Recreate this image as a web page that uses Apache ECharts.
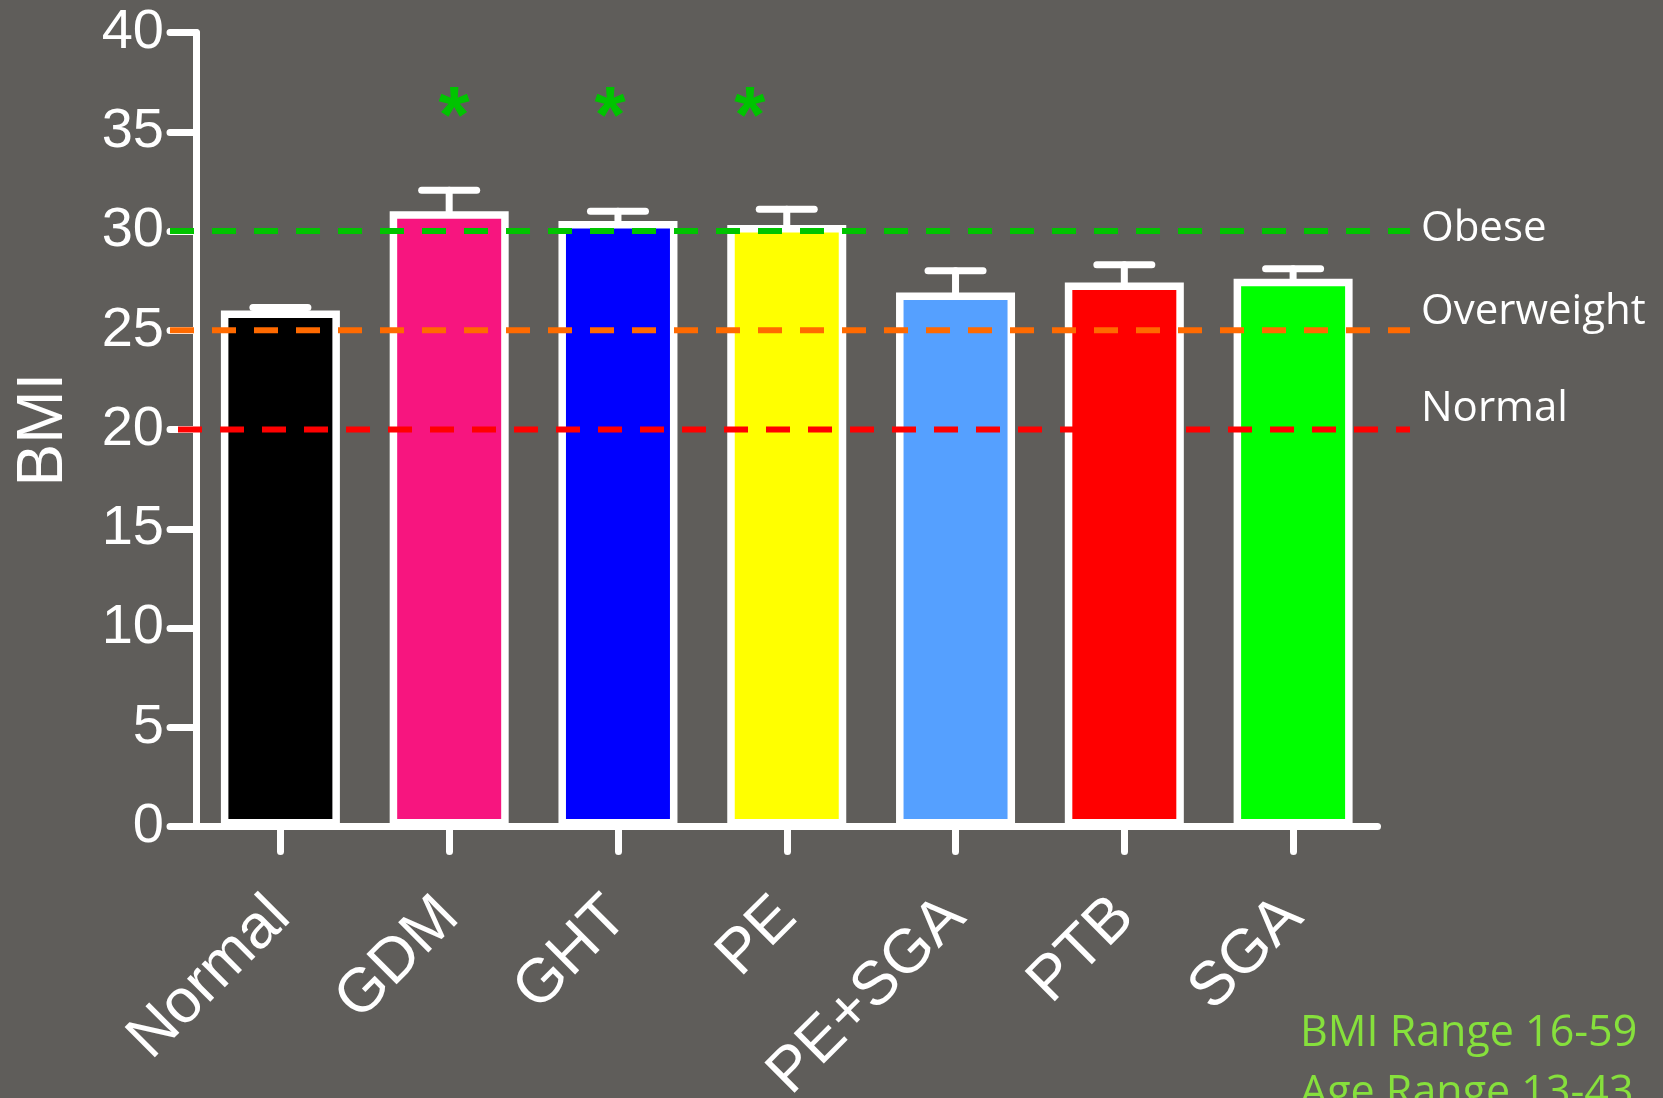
<!DOCTYPE html>
<html>
<head>
<meta charset="utf-8">
<script src="https://cdn.jsdelivr.net/npm/echarts@6/dist/echarts.min.js"></script>
<style>
  html, body { margin: 0; padding: 0; background: #5f5d5a; }
  #chart { width: 1663px; height: 1098px; }
</style>
</head>
<body>
<div id="chart"></div>
<script>
// Group means and standard errors of BMI per pregnancy outcome
const categories = ['Normal', 'GDM', 'GHT', 'PE', 'PE+SGA', 'PTB', 'SGA'];
const bmiMean = [26.0, 31.0, 30.5, 30.3, 26.9, 27.4, 27.6];
const bmiSem = [0.15, 1.05, 0.5, 0.8, 1.1, 0.9, 0.5];
const barColors = ['#000000', '#f7157f', '#0000ff', '#ffff00', '#55a0ff', '#ff0000', '#00ff00'];
const significant = [false, true, true, true, false, false, false];

// BMI classification cut-offs
const cutoffValues = [30, 25, 20];
const cutoffLabels = ['Obese', 'Overweight', 'Normal'];
const cutoffColors = ['#00c400', '#ff6a00', '#ff0000'];

// Value axis
const yMin = 0, yMax = 40, yStep = 5;

// Footnote lines
const notes = ['BMI Range 16-59', 'Age Range 13-43'];

// ---- styling ----
const WHITE = '#ffffff';
const AXIS_W = 7;
const starLevel = 35.6;
const starShift = [0, 5, -8, -37, 0, 0, 0];
const cutoffLabelLift = [-2, -18, -20];
const cutoffDashOffset = [0, 0, 34];

const chart = echarts.init(document.getElementById('chart'), null, { renderer: 'canvas' });

const gridTop = 32.5, gridBottom = 271.5;

const series = [];

series.push({
  type: 'bar',
  xAxisIndex: 0, yAxisIndex: 0,
  barWidth: 119,
  data: bmiMean.map((v, i) => ({
    value: v,
    itemStyle: { color: barColors[i], borderColor: WHITE, borderWidth: 7.5 }
  })),
  z: 2
});

// error bars (mean + SEM)
series.push({
  type: 'custom',
  xAxisIndex: 0, yAxisIndex: 0,
  data: bmiMean.map((v, i) => [i, v, bmiSem[i]]),
  renderItem: function (params, api) {
    const i = api.value(0), m = api.value(1), e = api.value(2);
    const base = api.coord([i, m]);
    const top = api.coord([i, m + e]);
    const half = 27.5;
    const st = { stroke: WHITE, lineWidth: 7, lineCap: 'round', fill: null };
    return {
      type: 'group',
      children: [
        { type: 'line', shape: { x1: base[0], y1: base[1] + 2, x2: top[0], y2: top[1] }, style: st },
        { type: 'line', shape: { x1: top[0] - half, y1: top[1], x2: top[0] + half, y2: top[1] }, style: st }
      ]
    };
  },
  z: 3
});

// significance markers
series.push({
  type: 'custom',
  xAxisIndex: 0, yAxisIndex: 0,
  data: significant.map((s, i) => s ? [i, starLevel] : null).filter(d => d),
  renderItem: function (params, api) {
    const i = api.value(0);
    const p = api.coord([i, api.value(1)]);
    return {
      type: 'text',
      x: p[0] + starShift[i], y: p[1],
      style: {
        text: '*', fill: '#00c400',
        font: 'bold 80px "Liberation Sans", Arial, sans-serif',
        align: 'center', verticalAlign: 'middle'
      }
    };
  },
  z: 4
});

// cut-off reference lines on an overlay grid spanning past the plot
cutoffValues.forEach((v, k) => {
  series.push({
    type: 'line',
    xAxisIndex: 1, yAxisIndex: 1,
    data: [[0, v], [1, v]],
    symbol: 'none',
    silent: true,
    lineStyle: { color: cutoffColors[k], width: 6, type: [24, 18], dashOffset: cutoffDashOffset[k], cap: 'butt' },
    endLabel: {
      show: true,
      formatter: cutoffLabels[k],
      color: WHITE,
      fontFamily: '"Open Sans", sans-serif',
      fontSize: 42,
      distance: 11,
      offset: [0, cutoffLabelLift[k]]
    },
    z: 5
  });
});

const option = {
  backgroundColor: '#5f5d5a',
  animation: false,
  grid: [
    { left: 196, right: 285.5, top: gridTop, bottom: gridBottom, containLabel: false, outerBoundsMode: 'none' },
    { left: 170, right: 253, top: gridTop, bottom: gridBottom, containLabel: false, outerBoundsMode: 'none' }
  ],
  xAxis: [
    {
      type: 'category',
      gridIndex: 0,
      data: categories,
      axisLine: { show: true, lineStyle: { color: WHITE, width: AXIS_W, cap: 'round' } },
      axisTick: { show: true, alignWithLabel: true, inside: false, length: 25, lineStyle: { color: WHITE, width: AXIS_W, cap: 'round' } },
      axisLabel: {
        show: true, interval: 0, rotate: 45, margin: 81,
        color: WHITE, fontSize: 62, fontFamily: '"Liberation Sans", Arial, sans-serif'
      },
      splitLine: { show: false }
    },
    { type: 'value', gridIndex: 1, min: 0, max: 1, show: false }
  ],
  yAxis: [
    {
      type: 'value',
      gridIndex: 0,
      min: yMin, max: yMax, interval: yStep,
      name: 'BMI',
      nameLocation: 'middle',
      nameRotate: 90,
      nameGap: 120,
      nameTextStyle: { color: WHITE, fontSize: 64, fontFamily: '"Liberation Sans", Arial, sans-serif' },
      axisLine: { show: true, lineStyle: { color: WHITE, width: AXIS_W, cap: 'round' } },
      axisTick: { show: true, inside: false, length: 26, lineStyle: { color: WHITE, width: AXIS_W, cap: 'round' } },
      axisLabel: { color: WHITE, fontSize: 56, margin: 32, fontFamily: '"Liberation Sans", Arial, sans-serif' },
      splitLine: { show: false }
    },
    { type: 'value', gridIndex: 1, min: yMin, max: yMax, show: false }
  ],
  graphic: notes.map((t, k) => ({
    type: 'text',
    left: 1300,
    top: 1012 + k * 60,
    style: {
      text: t,
      fill: '#86e03c',
      font: '43px "Open Sans", sans-serif'
    }
  })),
  series: series
};

chart.setOption(option);
</script>
</body>
</html>
